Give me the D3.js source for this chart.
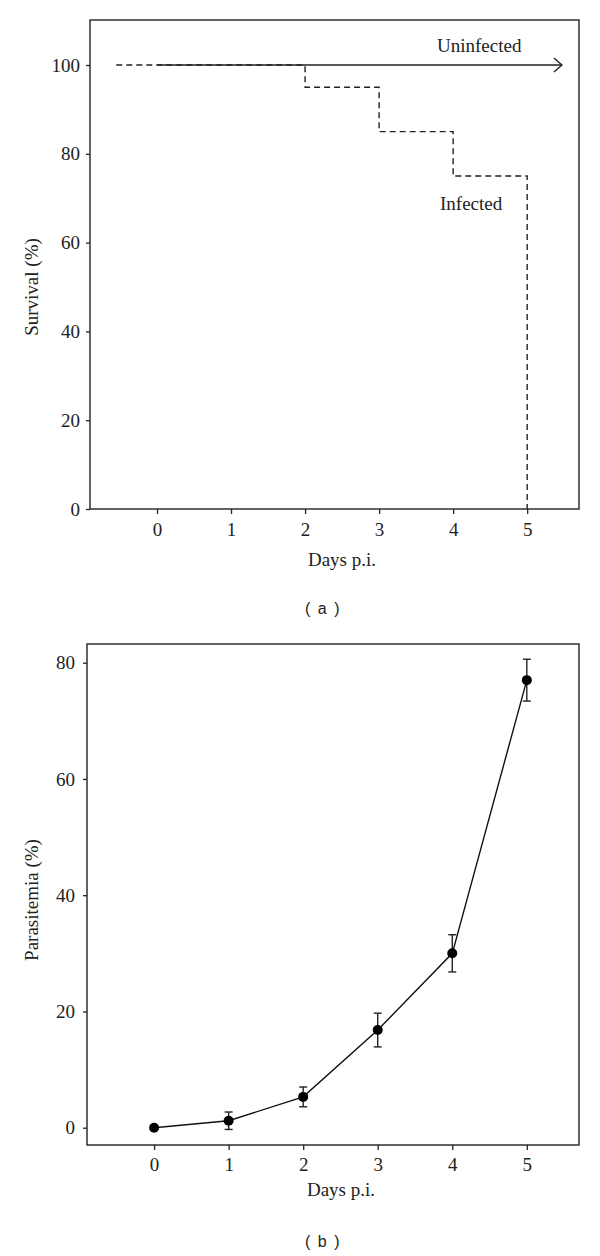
<!DOCTYPE html>
<html>
<head>
<meta charset="utf-8">
<script src="https://cdn.jsdelivr.net/npm/d3@7"></script>
<style>
  body { margin: 0; background: #fff; }
  svg { display: block; }
  .tick text { font-family: "Liberation Serif", serif; font-size: 19px; fill: #222; }
  .tick line { stroke: #222; stroke-width: 1.3; }
  .lbl { font-family: "Liberation Serif", serif; font-size: 19px; fill: #222; }
  .cap { font-family: "Liberation Sans", Arial, sans-serif; font-size: 16px; fill: #222; letter-spacing: 1.5px; white-space: pre; }
</style>
</head>
<body>
<div id="chart"></div>
<script>
// panel (a): survival
const dayTicks = [0, 1, 2, 3, 4, 5];
const survivalTicks = [0, 20, 40, 60, 80, 100];
const infectedTime = [-0.55, 2, 3, 4, 5];
const infectedSurvival = [100, 95, 85, 75, 0];
const uninfectedTime = [0, 5.47];
const uninfectedSurvival = [100, 100];

// panel (b): parasitemia
const paraDays = [0, 1, 2, 3, 4, 5];
const paraMean = [0, 1.2, 5.3, 16.8, 30.0, 77.0];
const paraErr = [0, 1.5, 1.7, 2.9, 3.2, 3.6];
const paraTicks = [0, 20, 40, 60, 80];

const width = 600, height = 1256;
const fmt = d3.format("d");

const svg = d3.select("#chart")
    .append("svg")
    .attr("width", width)
    .attr("height", height);

svg.append("defs").append("marker")
    .attr("id", "arrow")
    .attr("viewBox", "0 0 10 16")
    .attr("refX", 9)
    .attr("refY", 8)
    .attr("markerWidth", 10)
    .attr("markerHeight", 16)
    .attr("markerUnits", "userSpaceOnUse")
    .attr("orient", "auto")
    .append("path")
    .attr("d", "M1,1 L9,8 L1,15")
    .attr("fill", "none")
    .attr("stroke", "#222")
    .attr("stroke-width", 1.4);

// ---------- panel a ----------
const xA = d3.scaleLinear().domain([-0.905, 5.7]).range([90, 579]);
const yA = d3.scaleLinear().domain([0, 100]).range([509, 65]);

const gA = svg.append("g");

gA.append("g")
    .attr("transform", "translate(0,509)")
    .call(d3.axisBottom(xA).tickValues(dayTicks).tickFormat(fmt).tickSize(5).tickSizeOuter(0).tickPadding(9))
    .call(g => g.select(".domain").remove());

gA.append("g")
    .attr("transform", "translate(90,0)")
    .call(d3.axisLeft(yA).tickValues(survivalTicks).tickFormat(fmt).tickSize(4).tickSizeOuter(0).tickPadding(6))
    .call(g => g.select(".domain").remove());

gA.append("rect")
    .attr("x", 90).attr("y", 20)
    .attr("width", 579 - 90).attr("height", 509 - 20)
    .attr("fill", "none")
    .attr("stroke", "#222")
    .attr("stroke-width", 1.4);

const infected = infectedTime.map((t, i) => [t, infectedSurvival[i]]);
gA.append("path")
    .datum(infected)
    .attr("d", d3.line().x(d => xA(d[0])).y(d => yA(d[1])).curve(d3.curveStepAfter))
    .attr("fill", "none")
    .attr("stroke", "#222")
    .attr("stroke-width", 1.4)
    .attr("stroke-dasharray", "6,4");

const uninfected = uninfectedTime.map((t, i) => [t, uninfectedSurvival[i]]);
gA.append("path")
    .datum(uninfected)
    .attr("d", d3.line().x(d => xA(d[0])).y(d => yA(d[1])))
    .attr("fill", "none")
    .attr("stroke", "#222")
    .attr("stroke-width", 1.4)
    .attr("marker-end", "url(#arrow)");

gA.append("text").attr("class", "lbl")
    .attr("x", 437).attr("y", 52)
    .text("Uninfected");

gA.append("text").attr("class", "lbl")
    .attr("x", 440).attr("y", 210)
    .text("Infected");

gA.append("text").attr("class", "lbl")
    .attr("transform", "translate(38,287) rotate(-90)")
    .attr("text-anchor", "middle")
    .text("Survival (%)");

gA.append("text").attr("class", "lbl")
    .attr("x", 342).attr("y", 566)
    .attr("text-anchor", "middle")
    .text("Days p.i.");

gA.append("text").attr("class", "cap")
    .attr("x", 323).attr("y", 614)
    .attr("text-anchor", "middle")
    .text("( a )");

// ---------- panel b ----------
const xB = d3.scaleLinear().domain([-0.9, 5.7]).range([87, 579]);
const yB = d3.scaleLinear().domain([0, 80]).range([1127.7, 662.7]);

const gB = svg.append("g");

gB.append("g")
    .attr("transform", "translate(0,1145)")
    .call(d3.axisBottom(xB).tickValues(dayTicks).tickFormat(fmt).tickSize(5).tickSizeOuter(0).tickPadding(8))
    .call(g => g.select(".domain").remove());

gB.append("g")
    .attr("transform", "translate(87,0)")
    .call(d3.axisLeft(yB).tickValues(paraTicks).tickFormat(fmt).tickSize(4).tickSizeOuter(0).tickPadding(8))
    .call(g => g.select(".domain").remove());

gB.append("rect")
    .attr("x", 87).attr("y", 644)
    .attr("width", 579 - 87).attr("height", 1145 - 644)
    .attr("fill", "none")
    .attr("stroke", "#222")
    .attr("stroke-width", 1.4);

const para = paraDays.map((d, i) => ({ day: d, mean: paraMean[i], err: paraErr[i] }));

gB.append("path")
    .datum(para)
    .attr("d", d3.line().x(d => xB(d.day)).y(d => yB(d.mean)))
    .attr("fill", "none")
    .attr("stroke", "#111")
    .attr("stroke-width", 1.4);

const eb = gB.selectAll(".err")
    .data(para.filter(d => d.err > 0))
    .join("g")
    .attr("class", "err")
    .attr("stroke", "#222")
    .attr("stroke-width", 1.4);

eb.append("line")
    .attr("x1", d => xB(d.day)).attr("x2", d => xB(d.day))
    .attr("y1", d => yB(d.mean - d.err)).attr("y2", d => yB(d.mean + d.err));
eb.append("line")
    .attr("x1", d => xB(d.day) - 4).attr("x2", d => xB(d.day) + 4)
    .attr("y1", d => yB(d.mean + d.err)).attr("y2", d => yB(d.mean + d.err));
eb.append("line")
    .attr("x1", d => xB(d.day) - 4).attr("x2", d => xB(d.day) + 4)
    .attr("y1", d => yB(d.mean - d.err)).attr("y2", d => yB(d.mean - d.err));

gB.selectAll(".dot")
    .data(para)
    .join("circle")
    .attr("class", "dot")
    .attr("cx", d => xB(d.day))
    .attr("cy", d => yB(d.mean))
    .attr("r", 5)
    .attr("fill", "#000");

gB.append("text").attr("class", "lbl")
    .attr("transform", "translate(38,900) rotate(-90)")
    .attr("text-anchor", "middle")
    .text("Parasitemia (%)");

gB.append("text").attr("class", "lbl")
    .attr("x", 341).attr("y", 1196)
    .attr("text-anchor", "middle")
    .text("Days p.i.");

gB.append("text").attr("class", "cap")
    .attr("x", 323).attr("y", 1247)
    .attr("text-anchor", "middle")
    .text("( b )");
</script>
</body>
</html>
